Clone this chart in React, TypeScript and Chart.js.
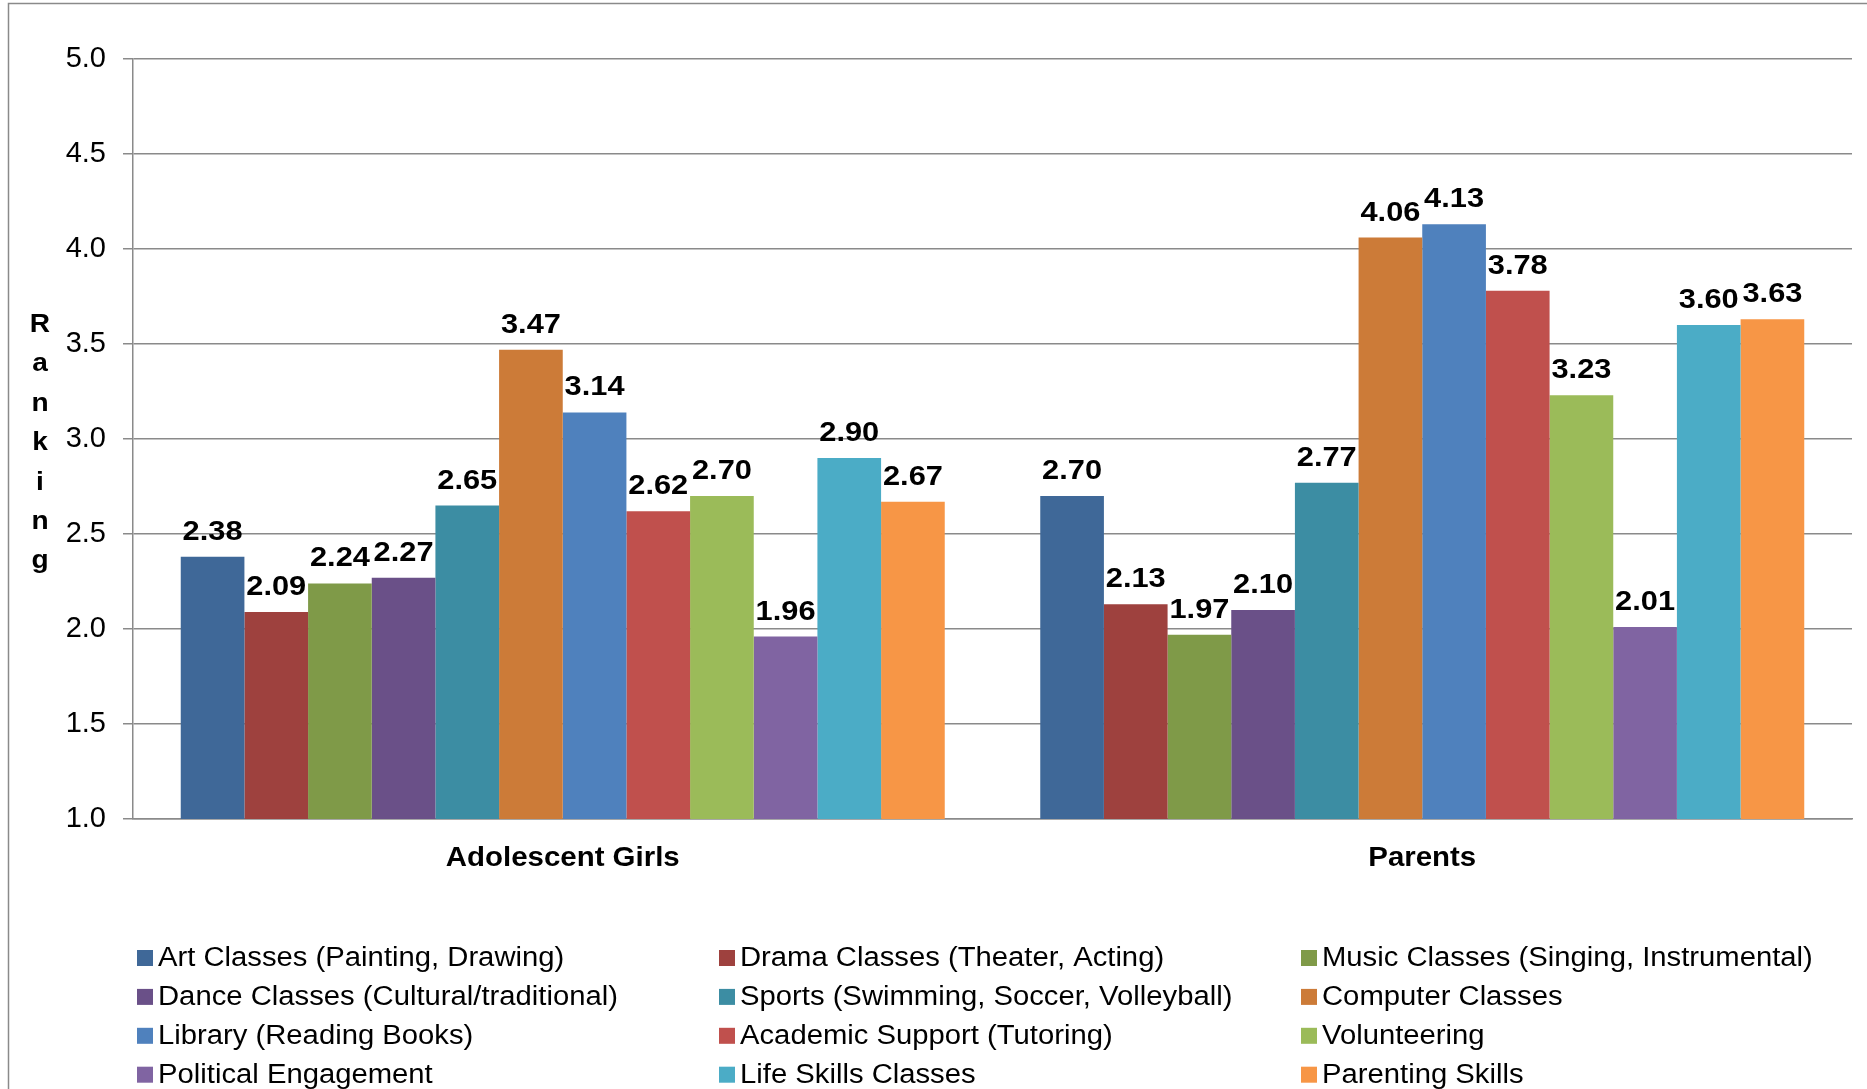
import React, { useEffect, useRef } from 'react';
import { Chart, registerables } from 'chart.js';

Chart.register(...registerables);

const categories = ['Adolescent Girls', 'Parents'];

const seriesNames = [
  'Art Classes (Painting, Drawing)',
  'Drama Classes (Theater, Acting)',
  'Music Classes (Singing, Instrumental)',
  'Dance Classes (Cultural/traditional)',
  'Sports (Swimming, Soccer, Volleyball)',
  'Computer Classes',
  'Library (Reading Books)',
  'Academic Support (Tutoring)',
  'Volunteering',
  'Political Engagement',
  'Life Skills Classes',
  'Parenting Skills',
];

const girlsValues = [2.38, 2.09, 2.24, 2.27, 2.65, 3.47, 3.14, 2.62, 2.70, 1.96, 2.90, 2.67];
const parentsValues = [2.70, 2.13, 1.97, 2.10, 2.77, 4.06, 4.13, 3.78, 3.23, 2.01, 3.60, 3.63];

const seriesColors = [
  '#3F6898',
  '#9E413E',
  '#7F9A48',
  '#6A5088',
  '#3C8DA3',
  '#CC7B38',
  '#4F81BD',
  '#C0504D',
  '#9BBB59',
  '#8064A2',
  '#4BACC6',
  '#F79646',
];

const yMin = 1.0;
const yMax = 5.0;
const yStep = 0.5;
const axisTitle = 'Ranking';

const FONT = '"Liberation Sans", Arial, Helvetica, sans-serif';
const GRID = '#8a8a8a';

function drawStretched(ctx: CanvasRenderingContext2D, text: string, x: number, y: number, align: CanvasTextAlign, sx: number) {
  ctx.save();
  ctx.translate(x, y);
  ctx.scale(sx, 1);
  ctx.textAlign = align;
  ctx.fillText(text, 0, 0);
  ctx.restore();
}

export default function App() {
  const canvasRef = useRef<HTMLCanvasElement | null>(null);

  useEffect(() => {
    const canvas = canvasRef.current;
    if (!canvas) return;

    const datasets = seriesNames.map((name, i) => ({
      label: name,
      data: [girlsValues[i], parentsValues[i]],
      backgroundColor: seriesColors[i],
      borderWidth: 0,
      barPercentage: 1,
      categoryPercentage: 12 / 13.5,
    }));

    const backgroundPlugin = {
      id: 'bgBorder',
      beforeDraw(chart: any) {
        const { ctx, width, height } = chart;
        ctx.save();
        ctx.fillStyle = '#ffffff';
        ctx.fillRect(0, 0, width, height);
        ctx.strokeStyle = GRID;
        ctx.lineWidth = 1.5;
        ctx.beginPath();
        ctx.moveTo(8.5, height + 2);
        ctx.lineTo(8.5, 3.5);
        ctx.lineTo(width + 2, 3.5);
        ctx.stroke();
        ctx.restore();
      },
    };

    const labelsPlugin = {
      id: 'valueLabels',
      afterDatasetsDraw(chart: any) {
        const { ctx } = chart;
        ctx.save();
        ctx.font = `bold 28px ${FONT}`;
        ctx.fillStyle = '#000';
        ctx.textBaseline = 'alphabetic';
        chart.data.datasets.forEach((ds: any, di: number) => {
          const meta = chart.getDatasetMeta(di);
          meta.data.forEach((bar: any, idx: number) => {
            const v = ds.data[idx] as number;
            drawStretched(ctx, v.toFixed(2), bar.x, bar.y - 17, 'center', 1.1);
          });
        });
        ctx.restore();
      },
    };

    const categoryPlugin = {
      id: 'categoryLabels',
      afterDraw(chart: any) {
        const { ctx, chartArea } = chart;
        const xScale = chart.scales.x;
        ctx.save();
        ctx.font = `bold 27px ${FONT}`;
        ctx.fillStyle = '#000';
        ctx.textBaseline = 'middle';
        (chart.data.labels as string[]).forEach((lab, i) => {
          drawStretched(ctx, lab, xScale.getPixelForTick(i), chartArea.bottom + 40, 'center', 1.09);
        });
        ctx.restore();
      },
    };

    const titlePlugin = {
      id: 'verticalTitle',
      afterDraw(chart: any) {
        const { ctx, chartArea } = chart;
        const letters = axisTitle.split('');
        const spacing = 39.4;
        const mid = (chartArea.top + chartArea.bottom) / 2 + 4;
        const start = mid - ((letters.length - 1) * spacing) / 2;
        ctx.save();
        ctx.font = `bold 26px ${FONT}`;
        ctx.fillStyle = '#000';
        ctx.textBaseline = 'middle';
        letters.forEach((ch, i) => {
          drawStretched(ctx, ch, 40, start + i * spacing, 'center', 1.08);
        });
        ctx.restore();
      },
    };

    const legendPlugin = {
      id: 'gridLegend',
      afterDraw(chart: any) {
        const { ctx, chartArea } = chart;
        const cols = 3;
        const colX = [137, 719, 1301];
        const rowH = 38.9;
        const y0 = chartArea.bottom + 139;
        ctx.save();
        ctx.font = `27px ${FONT}`;
        ctx.textBaseline = 'middle';
        chart.data.datasets.forEach((ds: any, i: number) => {
          const r = Math.floor(i / cols);
          const c = i % cols;
          const x = colX[c];
          const y = y0 + r * rowH;
          ctx.fillStyle = ds.backgroundColor;
          ctx.fillRect(x, y - 8, 16, 16);
          ctx.fillStyle = '#000';
          drawStretched(ctx, ds.label, x + 21, y + 1, 'left', 1.083);
        });
        ctx.restore();
      },
    };

    const chart = new Chart(canvas, {
      type: 'bar',
      data: { labels: categories, datasets },
      options: {
        responsive: false,
        animation: false,
        devicePixelRatio: 1,
        layout: { padding: { top: 59, right: 15, bottom: 210, left: 0 } },
        plugins: {
          legend: { display: false },
          tooltip: { enabled: false },
          title: { display: false },
        },
        scales: {
          x: {
            type: 'category',
            grid: { display: false },
            border: { display: true, color: GRID, width: 1.5 },
            ticks: { display: false },
            afterFit(scale: any) {
              scale.height = 60;
            },
          },
          y: {
            min: yMin,
            max: yMax,
            ticks: {
              stepSize: yStep,
              color: '#000',
              font: { family: FONT, size: 29 },
              padding: 17,
              callback: (v: any) => Number(v).toFixed(1),
            },
            grid: {
              color: GRID,
              lineWidth: 1.5,
              drawTicks: true,
              tickLength: 10,
            },
            border: { display: true, color: GRID, width: 1.5 },
            afterFit(scale: any) {
              scale.width = 133;
            },
          },
        },
      },
      plugins: [backgroundPlugin, labelsPlugin, categoryPlugin, titlePlugin, legendPlugin],
    });

    return () => {
      chart.destroy();
    };
  }, []);

  return (
    <div style={{ position: 'absolute', left: 0, top: 0, width: 1867, height: 1089, background: '#fff' }}>
      <canvas ref={canvasRef} width={1867} height={1089} style={{ display: 'block', width: 1867, height: 1089 }} />
    </div>
  );
}
